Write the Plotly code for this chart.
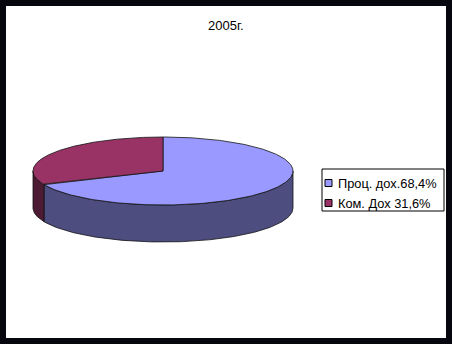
import numpy as np
import plotly.graph_objects as go

# ---- data ----
title_text = "2005г."
labels = ["Проц. дох.68,4%", "Ком. Дох 31,6%"]
values = [68.4, 31.6]
top_colors = ["#9999FF", "#993366"]
side_colors = ["#4D4D80", "#4D1A33"]

# ---- geometry (pixel coordinates of the drawing area) ----
W, H = 452, 344
B = 6  # black frame
cx, cy, rx, ry, depth = 163, 171, 130, 34, 37

def ell(theta_deg, dy=0.0):
    t = np.radians(theta_deg)
    return cx + rx * np.cos(t), cy - ry * np.sin(t) + dy

fig = go.Figure()

total = float(sum(values))
cum = np.concatenate([[0.0], np.cumsum(values)])
starts = 90 - 360 * cum[:-1] / total
ends = 90 - 360 * cum[1:] / total

# sides (front half only: sin(theta) < 0)
for i in range(len(values)):
    lo, hi = min(starts[i], ends[i]), max(starts[i], ends[i])
    for k in range(-2, 3):
        f_lo, f_hi = -180 + 360 * k, 0 + 360 * k
        a, b = max(lo, f_lo), min(hi, f_hi)
        if b - a > 1e-6:
            th = np.linspace(a, b, 120)
            xt, yt = ell(th)
            xb, yb = ell(th[::-1], depth)
            xs = np.concatenate([xt, xb, xt[:1]])
            ys = np.concatenate([yt, yb, yt[:1]])
            fig.add_trace(go.Scatter(x=xs, y=ys, mode="lines", fill="toself",
                                     fillcolor=side_colors[i],
                                     line=dict(color="#111111", width=0.8),
                                     hoverinfo="skip", showlegend=False))

# top sectors
for i in range(len(values)):
    th = np.linspace(starts[i], ends[i], 240)
    xa, ya = ell(th)
    xs = np.concatenate([[cx], xa, [cx]])
    ys = np.concatenate([[cy], ya, [cy]])
    fig.add_trace(go.Scatter(x=xs, y=ys, mode="lines", fill="toself",
                             fillcolor=top_colors[i],
                             line=dict(color="#111111", width=0.8),
                             hoverinfo="skip", showlegend=False))

# ---- manual legend ----
lg_x0, lg_y0, lg_x1 = 322, 169, 444
row_h = 20
first_row = 183
shapes = [dict(type="rect", xref="x", yref="y", x0=lg_x0, y0=lg_y0, x1=lg_x1,
               y1=lg_y0 + 42, line=dict(color="black", width=1),
               fillcolor="white", layer="above")]
annotations = []
for i, lab in enumerate(labels):
    yc = first_row + i * row_h
    shapes.append(dict(type="rect", xref="x", yref="y", x0=325, x1=332,
                       y0=yc - 3.5, y1=yc + 3.5, fillcolor=top_colors[i],
                       line=dict(color="black", width=1), layer="above"))
    annotations.append(dict(x=335.5, y=yc, xref="x", yref="y", text=lab,
                            showarrow=False, xanchor="left", yanchor="middle",
                            font=dict(family="Liberation Sans, Arial", size=12.8,
                                      color="black")))

annotations.append(dict(x=226, y=25, xref="x", yref="y", text=title_text,
                        showarrow=False, xanchor="center", yanchor="middle",
                        font=dict(family="Liberation Sans, Arial", size=13,
                                  color="black")))

fig.update_layout(
    width=W, height=H,
    margin=dict(l=B, r=B, t=B, b=B, pad=0),
    paper_bgcolor="#06060E",
    plot_bgcolor="white",
    xaxis=dict(range=[B, W - B], visible=False, fixedrange=True),
    yaxis=dict(range=[H - B, B], visible=False, fixedrange=True),
    shapes=shapes,
    annotations=annotations,
    showlegend=False,
)

fig.write_html("out.html")
